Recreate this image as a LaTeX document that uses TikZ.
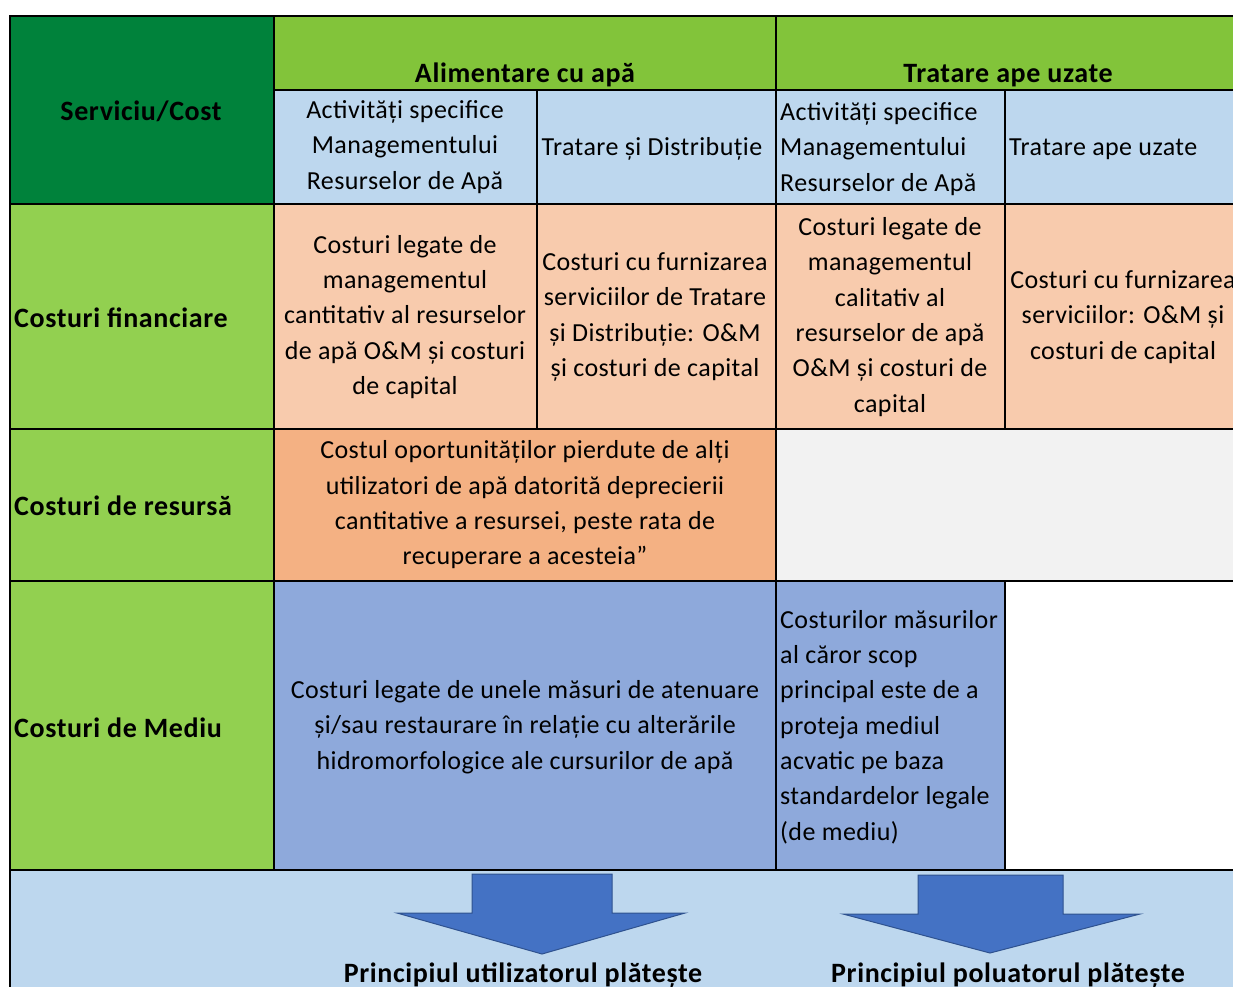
\documentclass[tikz,border=0pt]{standalone}
\usepackage{fontspec}
\setmainfont{Carlito}[LetterSpace=1.6,BoldFeatures={LetterSpace=2.2}]
\usetikzlibrary{positioning}

\definecolor{verdeInchis}{HTML}{00823B}
\definecolor{verdeAntet}{HTML}{82C43A}
\definecolor{verdeRand}{HTML}{92D050}
\definecolor{albastruDeschis}{HTML}{BDD7EE}
\definecolor{piersica}{HTML}{F8CBAD}
\definecolor{portocaliu}{HTML}{F4B183}
\definecolor{gri}{HTML}{F2F2F2}
\definecolor{albastruMediu}{HTML}{8EA9DB}
\definecolor{sageata}{HTML}{4472C4}
\definecolor{contur}{HTML}{2F528F}

\begin{document}
\begin{tikzpicture}[x=1pt,y=-1pt,
    celula/.style={draw=black,line width=2pt},
    scris/.style={font=\fontsize{26}{35.3}\selectfont,inner sep=0pt,align=center},
    titlu/.style={scris,font=\fontsize{28}{35.3}\selectfont\bfseries}]
    \useasboundingbox (0,0) rectangle (1233,986);
    \fill[white] (0,0) rectangle (1233,986);

    % Randul de jos (principiile) si zona gri.
    \filldraw[celula,fill=albastruDeschis] (10,870) rectangle (1250,1010);
    \fill[gri] (776,429) rectangle (1250,581);
    \draw[gray!40,line width=1pt] (776,429) rectangle (1250,581);

    % Antetul tabelului.
    \filldraw[celula,fill=verdeInchis] (10,16) rectangle (274,204);
    \filldraw[celula,fill=verdeAntet] (274,16) rectangle (776,90);
    \filldraw[celula,fill=verdeAntet] (776,16) rectangle (1250,90);
    \filldraw[celula,fill=albastruDeschis] (274,90) rectangle (537,204);
    \filldraw[celula,fill=albastruDeschis] (537,90) rectangle (776,204);
    \filldraw[celula,fill=albastruDeschis] (776,90) rectangle (1005,204);
    \filldraw[celula,fill=albastruDeschis] (1005,90) rectangle (1250,204);

    % Costuri financiare.
    \filldraw[celula,fill=verdeRand] (10,204) rectangle (274,429);
    \filldraw[celula,fill=piersica] (274,204) rectangle (537,429);
    \filldraw[celula,fill=piersica] (537,204) rectangle (776,429);
    \filldraw[celula,fill=piersica] (776,204) rectangle (1005,429);
    \filldraw[celula,fill=piersica] (1005,204) rectangle (1250,429);

    % Costuri de resursa.
    \filldraw[celula,fill=verdeRand] (10,429) rectangle (274,581);
    \filldraw[celula,fill=portocaliu] (274,429) rectangle (776,581);

    % Costuri de mediu.
    \filldraw[celula,fill=verdeRand] (10,581) rectangle (274,870);
    \filldraw[celula,fill=albastruMediu] (274,581) rectangle (776,870);
    \filldraw[celula,fill=albastruMediu] (776,581) rectangle (1005,870);
    \filldraw[celula,fill=white] (1005,581) rectangle (1250,870);

    % Textele din antet.
    \node[titlu] (serviciu) at (141,111) {Serviciu/Cost};
    \node[titlu,anchor=base] (alimentare) at (525,82) {Alimentare cu apă};
    \node[titlu,anchor=base] (tratare) at (1008,82) {Tratare ape uzate};
    \node[scris] (activA) at (405,147) {Activități specifice\\Managementului\\Resurselor de Apă};
    \node[scris] (distributie) at (652,149) {Tratare și Distribuție};
    \node[scris,anchor=west,align=left] (activT) at (780,149) {Activități specifice\\Managementului\\Resurselor de Apă};
    \node[scris,anchor=west] (uzate) at (1009,149) {Tratare ape uzate};

    % Etichetele randurilor.
    \node[titlu,anchor=west] (financiare) at (14,318) {Costuri financiare};
    \node[titlu,anchor=west] (resursa) at (14,506) {Costuri de resursă};
    \node[titlu,anchor=west] (mediu) at (14,728) {Costuri de Mediu};

    % Continutul celulelor.
    \node[scris] (cantitativ) at (405,317) {Costuri legate de\\managementul\\cantitativ al resurselor\\de apă O\&M și costuri\\de capital};
    \node[scris] (furnizareA) at (655,317) {Costuri cu furnizarea\\serviciilor de Tratare\\și Distribuție: O\&M\\și costuri de capital};
    \node[scris] (calitativ) at (890,317) {Costuri legate de\\managementul\\calitativ al\\resurselor de apă\\O\&M și costuri de\\capital};
    \node[scris] (furnizareT) at (1123,317) {Costuri cu furnizarea\\serviciilor: O\&M și\\costuri de capital};
    \node[scris] (oportunitati) at (525,505) {Costul oportunităților pierdute de alți\\utilizatori de apă datorită deprecierii\\cantitative a resursei, peste rata de\\recuperare a acesteia”};
    \node[scris] (atenuare) at (525,727) {Costuri legate de unele măsuri de atenuare\\și/sau restaurare în relație cu alterările\\hidromorfologice ale cursurilor de apă};
    \node[scris,anchor=west,align=left] (protectie) at (780,727) {Costurilor măsurilor\\al căror scop\\principal este de a\\proteja mediul\\acvatic pe baza\\standardelor legale\\(de mediu)};

    % Sagetile si principiile.
    \filldraw[fill=sageata,draw=contur,line width=1pt] (472,874) -- (612,874) -- (612,913) -- (685,913) -- (542,954) -- (397,913) -- (472,913) -- cycle;
    \filldraw[fill=sageata,draw=contur,line width=1pt] (918,875) -- (1063,875) -- (1063,914) -- (1140,914) -- (990,953) -- (843,914) -- (918,914) -- cycle;
    \node[titlu,anchor=base] (utilizator) at (523,982) {Principiul utilizatorul plătește};
    \node[titlu,anchor=base] (poluator) at (1008,982) {Principiul poluatorul plătește};
\end{tikzpicture}
\end{document}
